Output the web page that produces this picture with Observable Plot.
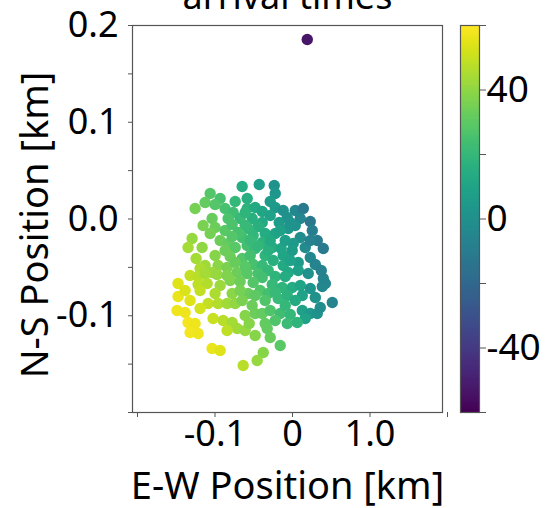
<!DOCTYPE html>
<html>
<head>
<meta charset="utf-8">
<script src="https://cdn.jsdelivr.net/npm/d3@7"></script>
<script src="https://cdn.jsdelivr.net/npm/@observablehq/plot@0.6"></script>
<style>
  body { margin: 0; background: #fff; }
  #wrap { position: relative; width: 545px; height: 508px; overflow: hidden; font-family: "Noto Sans", sans-serif; }
  #wrap svg { position: absolute; top: 0; }
  #main svg { left: 0; }
  #cbar svg { left: 460px; }
</style>
</head>
<body>
<div id="wrap"><div id="main"></div><div id="cbar"></div></div>
<script>
// Station positions (km) and relative arrival times (s)
const eastWest = [
  -0.0585, -0.0365, -0.0171, -0.0158, -0.0998, -0.0869, -0.0675, -0.0520, -0.1063, -0.1192,
  -0.0934, -0.0805, -0.0520, -0.0417, -0.0326, -0.0223, -0.0158, -0.0055, 0.0100, 0.0204,
  -0.0701, -0.0611, -0.0456, -0.0973, -0.0326, -0.0223, -0.0003, 0.0165, 0.0294, -0.0378,
  -0.1089, -0.0934, -0.0805, -0.0714, -0.0507, -0.0107, 0.0010, -0.0288, -0.0158, -0.0585,
  -0.0443, 0.0165, -0.1231, -0.0869, -0.0766, -0.0675, -0.0520, -0.0417, -0.0326, -0.0197,
  -0.0081, -0.0055, 0.0074, 0.0229, 0.0384, 0.0462, -0.1283, -0.1102, -0.0934, -0.0740,
  -0.0585, -0.0481, -0.0443, -0.0288, -0.0184, 0.0139, 0.0294, 0.0359, -0.0326, -0.0055,
  -0.0895, -0.1063, -0.0779, -0.0675, -0.0973, -0.1128, -0.0649, -0.0520, -0.0378, -0.0249,
  0.0010, 0.0139, 0.0268, 0.0462, 0.0436, -0.1257, -0.1153, -0.1063, -0.0908, -0.0779,
  -0.0326, -0.0158, -0.0029, 0.0488, -0.1412, -0.1153, -0.1037, -0.0869, -0.0740, -0.0611,
  -0.0443, -0.0197, -0.0068, 0.0061, 0.0165, 0.0294, 0.0449, -0.0352, -0.0249, -0.0507,
  -0.0934, -0.1128, -0.0714, -0.1412, -0.1257, -0.1024, -0.0895, -0.0779, -0.0675, -0.0585,
  -0.0120, -0.0003, 0.0191, 0.0578, -0.1128, -0.1425, -0.1321, -0.0960, -0.0830, -0.0714,
  -0.0649, -0.0779, -0.0546, -0.0494, -0.0546, -0.0417, -0.0326, -0.0223, -0.0094, 0.0036,
  0.0191, 0.0294, 0.0384, 0.0229, 0.0423, -0.0003, -0.0288, -0.0223, -0.0094, -0.0313,
  -0.0391, -0.0572, -0.1283, -0.1192, -0.1257, -0.1153, -0.0973, -0.0869, -0.0262, -0.0546,
  -0.0029, -0.0249, 0.0061, -0.0637, -0.0805, -0.0378, 0.0320, 0.0100, -0.0417, -0.0158,
  -0.0766, 0.0036, -0.0998, -0.0714, 0.0294, -0.1179, 0.0036, -0.0546, -0.1321, 0.0100,
  0.0359, -0.0288, -0.0456, -0.0158, 0.0126, -0.0417, -0.0029, -0.0611, -0.0094, -0.0546,
  -0.0223, -0.0481,
  0.0255
];
const northSouth = [
  0.0336, 0.0357, 0.0346, 0.0264, 0.0264, 0.0212, 0.0181, 0.0212, 0.0171, 0.0109,
  0.0150, 0.0109, 0.0109, 0.0119, 0.0078, 0.0181, 0.0119, 0.0088, 0.0088, 0.0109,
  0.0067, 0.0005, 0.0005, 0.0005, -0.0036, 0.0036, 0.0016, 0.0005, -0.0026, -0.0078,
  -0.0067, -0.0088, -0.0119, -0.0057, -0.0098, -0.0036, -0.0098, -0.0150, -0.0150, -0.0191,
  -0.0171, -0.0191, -0.0202, -0.0222, -0.0253, -0.0295, -0.0274, -0.0305, -0.0243, -0.0295,
  -0.0305, -0.0377, -0.0253, -0.0295, -0.0222, -0.0305, -0.0295, -0.0295, -0.0377, -0.0388,
  -0.0408, -0.0377, -0.0470, -0.0377, -0.0429, -0.0450, -0.0398, -0.0470, -0.0481, -0.0481,
  -0.0481, -0.0481, -0.0501, -0.0450, -0.0553, -0.0512, -0.0553, -0.0563, -0.0563, -0.0532,
  -0.0553, -0.0532, -0.0563, -0.0615, -0.0532, -0.0584, -0.0594, -0.0563, -0.0574, -0.0584,
  -0.0605, -0.0594, -0.0594, -0.0667, -0.0667, -0.0677, -0.0667, -0.0687, -0.0636, -0.0646,
  -0.0656, -0.0677, -0.0708, -0.0708, -0.0687, -0.0718, -0.0698, -0.0739, -0.0770, -0.0770,
  -0.0770, -0.0739, -0.0770, -0.0801, -0.0842, -0.0873, -0.0873, -0.0873, -0.0873, -0.0842,
  -0.0822, -0.0791, -0.0791, -0.0863, -0.0925, -0.0946, -0.0966, -0.1028, -0.1049, -0.1070,
  -0.1132, -0.1152, -0.1152, -0.1080, -0.0997, -0.0977, -0.0977, -0.0946, -0.0977, -0.0987,
  -0.0946, -0.0977, -0.0977, -0.1028, -0.0915, -0.1080, -0.1080, -0.1225, -0.1307, -0.1380,
  -0.1463, -0.1514, -0.1070, -0.1080, -0.1173, -0.1183, -0.1339, -0.1359, -0.1132, -0.0067,
  -0.0222, -0.0326, -0.0326, -0.0140, -0.0326, -0.0274, -0.0119, -0.0067, -0.0791, -0.0760,
  0.0005, -0.0036, -0.0150, -0.0181, -0.0222, -0.0408, -0.0429, -0.0491, -0.0739, -0.0842,
  -0.0811, -0.0842, -0.0894, -0.1049, -0.1070, -0.1204, -0.0894, -0.0739, -0.0119, 0.0067,
  -0.0222, -0.0222,
  0.1855
];
const arrivalTime = [
  14, 7, 1, 3, 28, 25, 20, 15, 31, 35,
  28, 25, 17, 13, 11, 6, 5, 0, -4, -11,
  23, 21, 16, 32, 13, 9, 0, -5, -12, 16,
  36, 33, 29, 26, 20, 6, 3, 14, 10, 24,
  19, -1, 41, 33, 31, 29, 24, 21, 17, 14,
  11, 11, 5, -3, -10, -11, 44, 40, 38, 33,
  28, 24, 25, 18, 16, 6, -4, -6, 21, 13,
  39, 43, 36, 32, 42, 45, 33, 29, 25, 20,
  12, 8, 0, -6, -7, 49, 47, 44, 41, 37,
  24, 18, 14, -6, 54, 48, 46, 42, 37, 33,
  28, 21, 18, 14, 10, 2, -4, 27, 24, 32,
  45, 49, 39, 56, 54, 49, 46, 43, 40, 36,
  21, 17, 9, -6, 52, 57, 57, 50, 47, 44,
  43, 48, 41, 38, 38, 33, 31, 27, 23, 20,
  8, 4, 1, 9, -1, 22, 31, 32, 29, 38,
  41, 47, 58, 57, 58, 57, 56, 54, 31, 21,
  7, 16, 6, 25, 33, 19, -9, 0, 30, 21,
  26, 2, 35, 28, -7, 44, 9, 29, 53, 13,
  0, 27, 33, 27, 18, 38, 20, 35, 8, 18,
  13, 21,
  -53
];

// Axis ticks and their printed labels
const xTickValues = [-0.2, -0.1, 0, 0.1, 0.2];
const xTickLabels = ["", "-0.1", "0", "1.0", ""];
const yTickValues = [0.2, 0.1, 0.0, -0.1, -0.2];
const yTickLabels = ["0.2", "0.1", "0.0", "-0.1", ""];
const yMinorTicks = [0.15, 0.05, -0.05, -0.15];
const colorTickValues = [40, 20, 0, -20, -40, 60, -60];
const colorTickLabels = ["40", "", "0", "", "-40", "", ""];

const titleText = "arrival times";
const xLabel = "E-W Position [km]";
const yLabel = "N-S Position [km]";

const colorDomain = [-60, 60];
const axisGray = "#555";
const fontFamily = "'Noto Sans', sans-serif";

const stations = eastWest.map((x, i) => ({ew: x, ns: northSouth[i], t: arrivalTime[i]}));

const main = Plot.plot({
  width: 545,
  height: 508,
  marginLeft: 132,
  marginRight: 103,
  marginTop: 25,
  marginBottom: 96,
  style: {fontFamily, background: "white", color: "black", overflow: "visible"},
  x: {domain: [-0.2, 0.2]},
  y: {domain: [-0.2, 0.2]},
  color: {type: "linear", scheme: "viridis", domain: colorDomain},
  marks: [
    Plot.dot(stations, {x: "ew", y: "ns", fill: "t", r: 5.7}),
    Plot.frame({stroke: axisGray, strokeWidth: 1.2}),
    Plot.axisX({
      ticks: xTickValues,
      tickFormat: d => xTickLabels[xTickValues.indexOf(d)],
      tickSize: 5, tickPadding: 3, dx: 5,
      stroke: axisGray, fill: "black", fontSize: 36, label: null
    }),
    Plot.axisY({
      ticks: yTickValues,
      tickFormat: d => yTickLabels[yTickValues.indexOf(d)],
      tickSize: 4, tickPadding: 10,
      stroke: axisGray, fill: "black", fontSize: 36, label: null
    }),
    Plot.axisY({ticks: yMinorTicks, tickFormat: () => "", tickSize: 4, stroke: axisGray, label: null}),
    Plot.text([titleText], {text: d => d, frameAnchor: "top", lineAnchor: "bottom", dy: -17, fontSize: 36}),
    Plot.text([xLabel], {text: d => d, frameAnchor: "bottom", lineAnchor: "bottom", dy: 86, fontSize: 38}),
    Plot.text([yLabel], {text: d => d, frameAnchor: "left", textAnchor: "middle", lineAnchor: "bottom", rotate: -90, dx: -85, dy: 6, fontSize: 38})
  ]
});
document.getElementById("main").append(main);

// Vertical colour bar for arrival time
const step = 0.5;
const ramp = d3.range(colorDomain[0], colorDomain[1], step);
const cbar = Plot.plot({
  width: 85,
  height: 508,
  marginLeft: 0,
  marginRight: 66,
  marginTop: 25,
  marginBottom: 96,
  style: {fontFamily, background: "transparent", color: "black", overflow: "visible"},
  x: {domain: [0, 1], axis: null},
  y: {domain: colorDomain},
  color: {type: "linear", scheme: "viridis", domain: colorDomain},
  marks: [
    Plot.rect(ramp, {x1: 0, x2: 1, y1: d => d, y2: d => d + step, fill: d => d + step / 2, shapeRendering: "crispEdges"}),
    Plot.frame({stroke: axisGray, strokeWidth: 1.2}),
    Plot.axisY({
      anchor: "right",
      ticks: colorTickValues,
      tickFormat: d => colorTickLabels[colorTickValues.indexOf(d)],
      tickSize: 6, tickPadding: 1,
      stroke: axisGray, fill: "black", fontSize: 37, label: null
    })
  ]
});
document.getElementById("cbar").append(cbar);
</script>
</body>
</html>
